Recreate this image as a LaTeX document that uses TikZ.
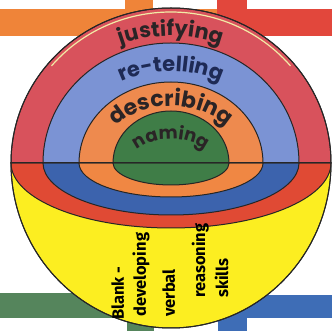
\documentclass[tikz,border=0pt]{standalone}
\usepackage{fontspec}
\usetikzlibrary{decorations.text}
\newfontfamily\roundfont{Poppins}
\newfontfamily\labelfont{Fira Sans}
\newcommand\bandfont[1]{\roundfont\bfseries\fontsize{#1}{#1}\selectfont}
\definecolor{upred}{HTML}{D8525C}
\definecolor{upblue}{HTML}{7B93D4}
\definecolor{uporange}{HTML}{EE8A4E}
\definecolor{greenc}{HTML}{3F7D47}
\definecolor{lowred}{HTML}{E04A34}
\definecolor{lowblue}{HTML}{3C63AD}
\definecolor{loworange}{HTML}{F08743}
\definecolor{yellowc}{HTML}{FCEE21}
\definecolor{barorange}{HTML}{EF8439}
\definecolor{barred}{HTML}{E2473C}
\definecolor{bargreen}{HTML}{55855C}
\definecolor{barblue}{HTML}{3E6DB6}
\definecolor{cream}{HTML}{F2EBA6}
\definecolor{inkc}{HTML}{2A2426}
\definecolor{inkblue}{HTML}{1E2A55}
\begin{document}
\begin{tikzpicture}[x=1pt,y=1pt,
  band/.style={draw=black!85,line width=1pt},
  bandtext/.style={decorate,decoration={text along path,text align=center,text color=inkc,text={#1}}},
  skilltext/.style={rotate=90,anchor=base west,inner sep=0pt,text=black,font=\labelfont\bfseries\fontsize{16.5}{16.5}\selectfont}]
  \fill[white] (-171,-168) rectangle (161,163);
  \useasboundingbox (-171,-168) rectangle (161,163);
  % bars behind the ball
  \foreach \xa/\xb/\ya/\yb/\col in {-171/46/127/154/barorange, 46/161/127/154/barred,
      -46/-18/154/163/barorange, 46/76/154/163/barred,
      -171/14/-155/-130/bargreen, 14/161/-155/-132/barblue,
      -44/-17/-168/-155/bargreen, 47/76/-168/-155/barblue}
    \fill[\col] (\xa,\ya) rectangle (\xb,\yb);
  % ball
  \draw[band,fill=yellowc] (160,0) arc[start angle=0,end angle=-180,x radius=160,y radius=165] -- cycle;
  \foreach \r/\up/\hi/\lo/\low in {160/upred/155/65/lowred, 128/upblue/120/52/lowblue,
      92/uporange/81/34/loworange, 58/greenc/52/22/greenc} {
    \draw[band,fill=\low] (\r,0) arc[start angle=0,end angle=-180,x radius=\r,y radius=\lo] -- cycle;
    \draw[band,fill=\up] (\r,0) arc[start angle=0,end angle=180,x radius=\r,y radius=\hi] -- cycle;
  }
  \draw[band] (-160,0) -- (160,0);
  \draw[band] (160,0) arc[start angle=0,end angle=180,x radius=160,y radius=155]
    arc[start angle=180,end angle=360,x radius=160,y radius=165];
  \draw[cream,line width=1.2pt] (40:156 and 151) arc[start angle=40,end angle=140,x radius=156,y radius=151];
  % band labels
  \path[bandtext={|\bandfont{21}|justifying}] (170:138 and 127) arc[start angle=170,end angle=10,x radius=138,y radius=127];
  \path[bandtext={|\bandfont{21}\color{inkblue}|re-telling}] (170:106 and 92) arc[start angle=170,end angle=10,x radius=106,y radius=92];
  \path[bandtext={|\bandfont{22}|describing}] (175:73 and 57) arc[start angle=175,end angle=5,x radius=73,y radius=57];
  \path[bandtext={|\bandfont{18}|naming}] (178:41 and 24) arc[start angle=178,end angle=2,x radius=41,y radius=24];
  % skills text
  \node[skilltext] (blank) at (-47,-157) {Blank -};
  \node[skilltext] (developing) at (-25,-154) {developing};
  \node[skilltext] (verbal) at (4,-154) {verbal};
  \node[skilltext] (reasoning) at (34,-135) {reasoning};
  \node[skilltext] (skills) at (57,-135) {skills};
\end{tikzpicture}
\end{document}
